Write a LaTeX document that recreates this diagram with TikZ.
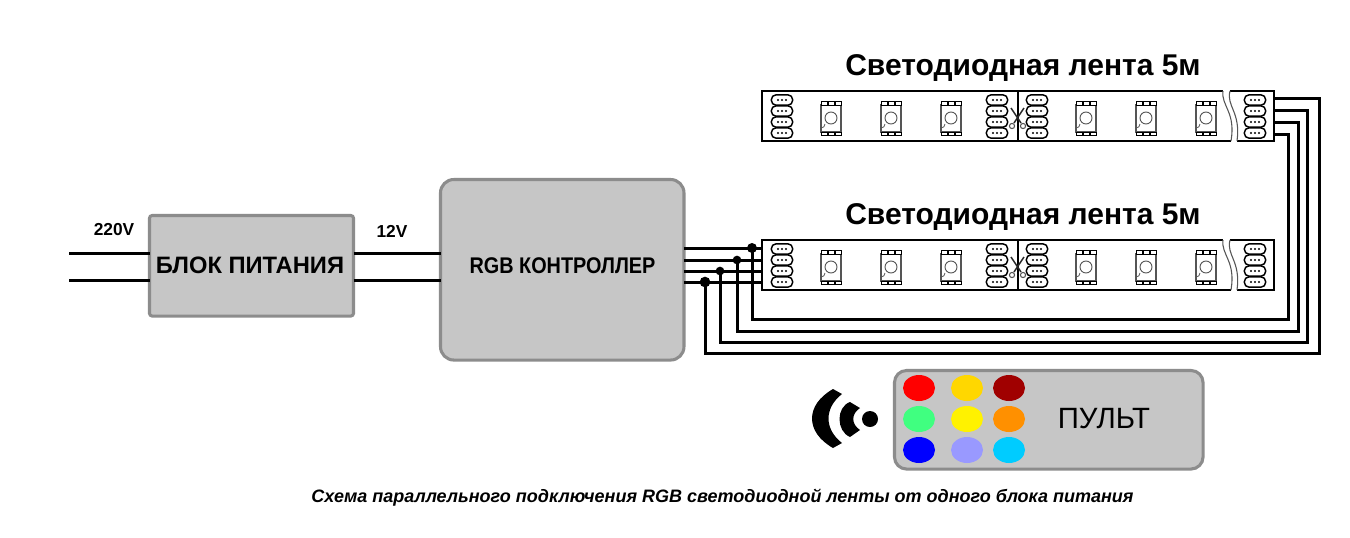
\documentclass[tikz,border=0pt]{standalone}
\usepackage{fontspec}
\usepackage{graphicx}
\setmainfont{Liberation Sans}
\usetikzlibrary{calc,shapes.geometric}
\definecolor{boxfill}{HTML}{C6C6C6}
\definecolor{boxedge}{HTML}{8C8C8C}
\definecolor{ledgray}{HTML}{555555}
\tikzset{
  px/.style={x=0.75pt,y=-0.75pt},
  gbox/.style={draw=boxedge,line width=2.3pt,fill=boxfill,outer sep=0pt,inner sep=0pt,anchor=north west},
  wire/.style={line width=2.25pt,black,line join=miter},
  stripline/.style={line width=1.3pt,black},
  padshape/.style={draw=black,line width=1.1pt,fill=white,rounded corners=3.6pt,minimum width=16pt,minimum height=7.8pt,inner sep=0pt},
  tiny pad/.style={draw=black,line width=.6pt,fill=white},
  lbl/.style={inner sep=0pt,font=\bfseries},
  btn/.style={draw=none,ellipse,minimum width=24pt,minimum height=19.5pt,inner sep=0pt},
  jdot/.style={circle,fill=black,inner sep=0pt},
  titlelbl/.style={inner sep=0pt,font=\bfseries\fontsize{22.5}{26}\selectfont},
}
\newcommand{\padgroup}[1]{%
  \foreach \yy in {100,111,122,133}{%
    \node[padshape] at (#1,\yy) {};
    \foreach \dd in {-4,0,4}{\fill (#1+\dd,\yy) circle[radius=1.1];}
  }}
\newcommand{\ledchip}[1]{%
  \draw[ledgray,line width=.8pt,fill=white] (#1-10,105) rectangle (#1+10,132);
  \foreach \dd in {-10,-3,4}{%
    \draw[tiny pad] (#1+\dd,101.5) rectangle ++(6,3.5);
    \draw[tiny pad] (#1+\dd,132) rectangle ++(6,3.5);}
  \draw[ledgray,line width=.7pt] (#1,118) circle[radius=6];
  \draw[ledgray,line width=.6pt] (#1-10,128) arc[start angle=90,end angle=0,radius=4];
}
\newcommand{\ledstrip}{%
  \fill[white] (762,91) rectangle (1275,141);
  \draw[stripline] (1223,91) -- (762,91) -- (762,141) -- (1231,141);
  \draw[stripline] (1018,91) -- (1018,141);
  \draw[stripline] (1230,91) -- (1274,91) -- (1274,141) -- (1237,141);
  \draw[ledgray,line width=.8pt] (1223,91) .. controls (1221,106) and (1236,112) .. (1231,141);
  \draw[ledgray,line width=.8pt] (1230,91) .. controls (1226,106) and (1241,112) .. (1237,141);
  \padgroup{782}\padgroup{997}\padgroup{1037}\padgroup{1255}
  \foreach \xx in {831,891,951,1086,1146,1206}{\ledchip{\xx}}
  \draw[black!85,line width=1.1pt] (1011,108) -- (1021,123) (1024,108) -- (1014,123);
  \draw[ledgray,line width=.8pt] (1012,126) circle[radius=2.6] (1023,126) circle[radius=2.6];
}
\begin{document}
\begin{tikzpicture}[px]
\useasboundingbox (0,0) rectangle (1350,537);
\fill[white] (0,0) rectangle (1350,537);

\coordinate (inA) at (69,253);
\coordinate (inB) at (69,280);

% boxes
\node[gbox,rounded corners=2pt,minimum width=153pt,minimum height=75.4pt] (psu) at (149.5,215.5) {};
\node[lbl,font=\bfseries\fontsize{17.8}{20}\selectfont] (psutxt) at (250,265) {БЛОК ПИТАНИЯ};
\node[gbox,rounded corners=10pt,minimum width=182.6pt,minimum height=135.4pt] (ctrl) at (440.5,179.5) {};
\node[lbl,font=\bfseries\fontsize{17}{20}\selectfont] (ctrltxt) at (562.5,266) {\scalebox{.875}[1]{RGB КОНТРОЛЛЕР}};

\draw[wire] (inA) -- (inA -| psu.west);
\draw[wire] (inB) -- (inB -| psu.west);
\draw[wire] (inA -| psu.east) -- (inA -| ctrl.west);
\draw[wire] (inB -| psu.east) -- (inB -| ctrl.west);

\node[lbl,font=\bfseries\fontsize{13}{16}\selectfont] (v220) at (114,230) {220V};
\node[lbl,font=\bfseries\fontsize{13}{16}\selectfont] (v12) at (392,231) {12V};

% strips
\begin{scope}[shift={(0,0)}]\ledstrip\end{scope}
\begin{scope}[shift={(0,149)}]\ledstrip\end{scope}
\node[titlelbl] (t1) at (1023,68) {Светодиодная лента 5м};
\node[titlelbl] (t2) at (1023,217) {Светодиодная лента 5м};

% named wire ends
\coordinate (sa) at (762,248); \coordinate (sb) at (762,260);
\coordinate (sc) at (762,271); \coordinate (sd) at (762,282);
\coordinate (ra) at (1275,134); \coordinate (rb) at (1275,122);
\coordinate (rc) at (1275,110); \coordinate (rd) at (1275,98);
\coordinate (ja) at (752,248); \coordinate (jb) at (737,260);
\coordinate (jc) at (720,271); \coordinate (jd) at (705,282);
\draw[wire] (sa -| ctrl.east) -- (sa);
\draw[wire] (sb -| ctrl.east) -- (sb);
\draw[wire] (sc -| ctrl.east) -- (sc);
\draw[wire] (sd -| ctrl.east) -- (sd);
\draw[wire] (ja) -- (752,319) -- (1288,319) -- (1288,134) -- (ra);
\draw[wire] (jb) -- (737,331) -- (1298,331) -- (1298,122) -- (rb);
\draw[wire] (jc) -- (720,342) -- (1307,342) -- (1307,110) -- (rc);
\draw[wire] (jd) -- (705,353) -- (1319,353) -- (1319,98) -- (rd);
\node[jdot,minimum size=7.5pt] (da) at (ja) {};
\node[jdot,minimum size=6.5pt] (db) at (jb) {};
\node[jdot,minimum size=6.5pt] (dc) at (jc) {};
\node[jdot,minimum size=8pt] (dd) at (jd) {};

% remote
\node[gbox,rounded corners=9pt,minimum width=231.4pt,minimum height=73.9pt] (remote) at (894.5,370.5) {};
\node[inner sep=0pt,font=\fontsize{22}{26}\selectfont] (remtxt) at (1104,419) {ПУЛЬТ};
\node[btn,fill=red] (b1) at (919,388) {};
\node[btn,fill={rgb,255:red,255;green,215;blue,0}] (b2) at (967,388) {};
\node[btn,fill={rgb,255:red,160;green,0;blue,0}] (b3) at (1009,388) {};
\node[btn,fill={rgb,255:red,64;green,255;blue,128}] (b4) at (919,419) {};
\node[btn,fill=yellow] (b5) at (967,419) {};
\node[btn,fill={rgb,255:red,255;green,144;blue,0}] (b6) at (1009,419) {};
\node[btn,fill=blue] (b7) at (919,450) {};
\node[btn,fill={rgb,255:red,153;green,153;blue,255}] (b8) at (967,450) {};
\node[btn,fill={rgb,255:red,0;green,204;blue,255}] (b9) at (1009,450) {};

% wireless symbol
\fill (870,419) circle[radius=8];
\fill (850,402) -- (860,408) .. controls (851,414) and (851,424) .. (860,430) -- (850,437)
      .. controls (836,431) and (836,407) .. (850,402) -- cycle;
\fill (833,389) -- (842,394) .. controls (824,408) and (824,429) .. (842,443) -- (833,448)
      .. controls (805,432) and (805,405) .. (833,389) -- cycle;

\node[inner sep=0pt,font=\bfseries\itshape\fontsize{13.5}{16}\selectfont] (cap) at (722.5,498) {Схема параллельного подключения RGB светодиодной ленты от одного блока питания};
\end{tikzpicture}
\end{document}
